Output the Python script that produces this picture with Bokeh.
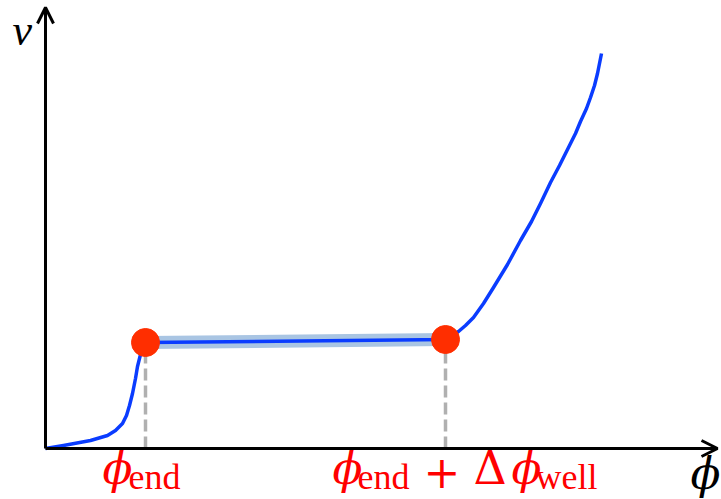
from bokeh.plotting import figure
from bokeh.models import Range1d, Arrow, OpenHead
from bokeh.core.properties import value
from bokeh.embed import file_html
from bokeh.resources import INLINE

# ---- data (phi, v in arbitrary units) ----
phi_curve = [0.00, 0.18, 0.45, 0.62, 0.70, 0.77, 0.81, 0.84, 0.87, 0.90, 0.92, 0.95, 0.98, 1.00,
             4.00, 4.07, 4.13, 4.20, 4.28, 4.38, 4.48, 4.62, 4.75, 4.86, 4.95, 5.05, 5.14, 5.22,
             5.30, 5.35, 5.41, 5.45, 5.49, 5.52, 5.54, 5.56]
v_curve = [0.00, 0.03, 0.08, 0.13, 0.18, 0.25, 0.33, 0.43, 0.55, 0.70, 0.82, 0.94, 1.03, 1.06,
           1.09, 1.13, 1.17, 1.23, 1.31, 1.45, 1.61, 1.84, 2.08, 2.27, 2.45, 2.66, 2.83, 2.99,
           3.15, 3.27, 3.40, 3.51, 3.63, 3.75, 3.85, 3.95]
phi_marks = [1.00, 4.00]          # phi_end, phi_end + dphi_well
v_marks = [1.06, 1.09]
axis_end_phi = 6.72
axis_end_v = 4.41

RED = "#ff0000"
DOT = "#ff2e00"
BLUE = "#0a3cff"
BAND = "#a9c5e3"
GRAY = "#b0b0b0"
SERIF = "Liberation Serif"
SYM = "DejaVu Serif"

p = figure(width=721, height=499, output_backend="svg", toolbar_location=None,
           x_range=Range1d(-0.45, 6.76), y_range=Range1d(-0.51, 4.48),
           x_axis_location=None, y_axis_location=None, min_border=0,
           background_fill_color="white", border_fill_color="white")
p.grid.visible = False
p.outline_line_color = None

# dashed drop lines
for xm, vm in zip(phi_marks, v_marks):
    p.line([xm, xm], [0, vm], line_color=GRAY, line_width=3.5, line_dash="12 5")

# light band on plateau
p.line(phi_marks, v_marks, line_color=BAND, line_width=13)

# potential curve
p.line(phi_curve, v_curve, line_color=BLUE, line_width=3.5, line_join="round")

# axes with arrows
p.add_layout(Arrow(x_start=0, y_start=0, x_end=axis_end_phi, y_end=0,
                   line_width=3, line_color="black",
                   end=OpenHead(size=16, line_width=3, line_color="black")))
p.add_layout(Arrow(x_start=0, y_start=0, x_end=0, y_end=axis_end_v,
                   line_width=3, line_color="black",
                   end=OpenHead(size=16, line_width=3, line_color="black")))

# dots
p.scatter(phi_marks, v_marks, size=28, fill_color=DOT, line_color=DOT)

def lab(x, y, text, font, size, color="black", style="normal"):
    p.text(x=[x], y=[y], text=[text], text_font=value(font), text_font_size=f"{size}px",
           text_color=color, text_font_style=style, y_offset=-round(0.35 * size),
           text_baseline="alphabetic", text_align="left")

# axis labels
lab(-0.33, 4.03, "v", SERIF, 44, "black", "italic")
lab(6.45, -0.40, "ϕ", SYM, 44, "black", "italic")

# phi_end
lab(0.57, -0.35, "ϕ", SYM, 44, RED, "italic")
lab(0.83, -0.41, "end", SERIF, 36, RED)

# phi_end + Delta phi_well
lab(2.87, -0.35, "ϕ", SYM, 44, RED, "italic")
lab(3.12, -0.41, "end", SERIF, 36, RED)
lab(3.78, -0.38, "+", SYM, 44, RED)
lab(4.28, -0.35, "Δ", SYM, 46, RED)
lab(4.66, -0.35, "ϕ", SYM, 44, RED, "italic")
lab(4.90, -0.41, "well", SERIF, 36, RED)

open("out.html", "w").write(file_html(p, INLINE))
